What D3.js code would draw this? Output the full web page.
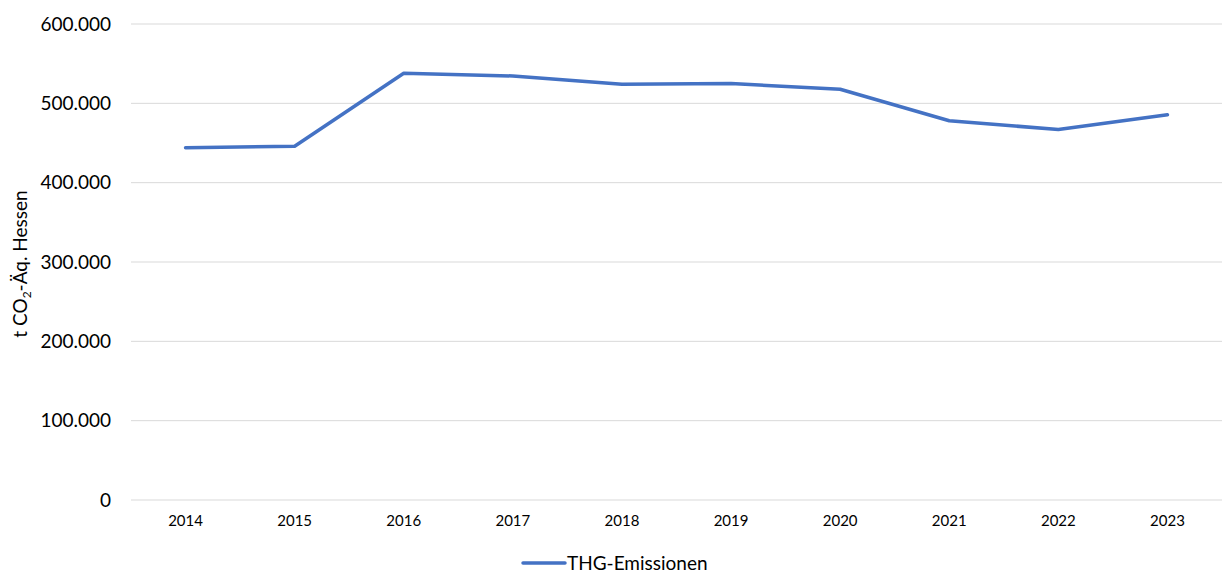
<!DOCTYPE html>
<html>
<head>
<meta charset="utf-8">
<script src="https://cdn.jsdelivr.net/npm/d3@7"></script>
<style>
  html, body { margin: 0; padding: 0; background: #fff; }
  svg { display: block; font-family: Lato, "Open Sans", sans-serif; }
</style>
</head>
<body>
<svg id="chart" width="1223" height="573"></svg>
<script>
// Annual greenhouse gas emissions, Hesse (t CO2-eq)
const years = ["2014", "2015", "2016", "2017", "2018", "2019", "2020", "2021", "2022", "2023"];
const emissions = [444000, 446000, 538000, 534500, 524000, 525000, 517700, 478000, 467000, 485500];
const yTicks = [0, 100000, 200000, 300000, 400000, 500000, 600000];
const seriesName = "THG-Emissionen";

const svg = d3.select("#chart");
const margin = { left: 131, right: 1222, top: 24, bottom: 500 };

const x = d3.scaleBand().domain(years).range([margin.left, margin.right]);
const y = d3.scaleLinear().domain([0, 600000]).range([margin.bottom, margin.top]);

const fmt = v => v === 0 ? "0" : d3.format(",")(v).replace(/,/g, ".");

// Horizontal gridlines
svg.append("g")
  .selectAll("line")
  .data(yTicks)
  .join("line")
  .attr("x1", margin.left).attr("x2", margin.right)
  .attr("y1", d => y(d)).attr("y2", d => y(d))
  .attr("stroke", "#d9d9d9").attr("stroke-width", 1);

// Y axis labels
const yAxis = svg.append("g")
  .attr("transform", `translate(${margin.left - 20},0)`)
  .call(d3.axisLeft(y).tickValues(yTicks).tickFormat(fmt).tickSize(0).tickPadding(0));
yAxis.select(".domain").remove();
yAxis.selectAll("text").attr("font-size", 19).attr("fill", "#000")
  .attr("font-family", "Lato, 'Open Sans', sans-serif");

// X axis labels
const xAxis = svg.append("g")
  .attr("transform", `translate(0,${margin.bottom})`)
  .call(d3.axisBottom(x).tickSize(0).tickPadding(15));
xAxis.select(".domain").remove();
xAxis.selectAll("text").attr("font-size", 15).attr("fill", "#000")
  .attr("font-family", "Lato, 'Open Sans', sans-serif");

// Y axis title with subscript
const title = svg.append("text")
  .attr("transform", `translate(27,${(margin.top + margin.bottom) / 2 + 2}) rotate(-90)`)
  .attr("text-anchor", "middle")
  .attr("font-size", 19).attr("fill", "#000");
title.append("tspan").text("t CO");
title.append("tspan").attr("font-size", 12).attr("dy", 4).text("2");
title.append("tspan").attr("dy", -4).text("-Äq. Hessen");

// Series line
const line = d3.line()
  .x((d, i) => x(years[i]) + x.bandwidth() / 2)
  .y(d => y(d));
svg.append("path")
  .datum(emissions)
  .attr("d", line)
  .attr("fill", "none")
  .attr("stroke", "#4472c4")
  .attr("stroke-width", 3.5)
  .attr("stroke-linejoin", "round")
  .attr("stroke-linecap", "round");

// Legend
const legend = svg.append("g").attr("transform", "translate(523,563)");
legend.append("line")
  .attr("x1", 0).attr("x2", 42).attr("y1", 0).attr("y2", 0)
  .attr("stroke", "#4472c4").attr("stroke-width", 3.5).attr("stroke-linecap", "round");
legend.append("text")
  .attr("x", 44).attr("y", 0).attr("dy", "0.35em")
  .attr("font-size", 19).attr("fill", "#000")
  .text(seriesName);
</script>
</body>
</html>
